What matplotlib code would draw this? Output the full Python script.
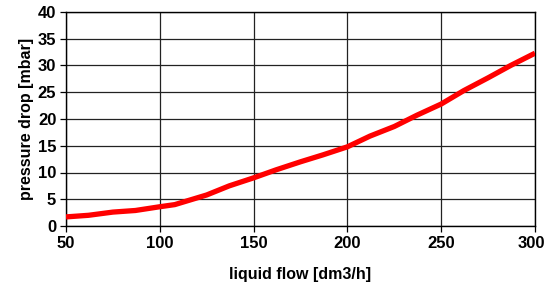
import matplotlib
matplotlib.use("Agg")
import matplotlib.pyplot as plt
import matplotlib.transforms as mtransforms

plt.rcParams['font.family'] = ['Liberation Sans', 'DejaVu Sans']
plt.rcParams['font.weight'] = 'bold'

# liquid flow [dm3/h] and pressure drop [mbar]
flow = [50, 62, 75, 87, 100, 108, 125, 137, 150, 162, 175, 187, 200,
        212, 225, 237, 250, 262, 275, 287, 300]
dp = [1.7, 2.0, 2.6, 2.9, 3.6, 4.0, 5.8, 7.5, 9.0, 10.5, 12.0, 13.3, 14.8,
      16.8, 18.6, 20.7, 22.8, 25.3, 27.7, 30.0, 32.3]

x_ticks = [50, 100, 150, 200, 250, 300]
y_ticks = [0, 5, 10, 15, 20, 25, 30, 35, 40]

fig = plt.figure(figsize=(5.47, 2.89), dpi=100)
ax = fig.add_axes([66/547, 1 - 226/289, (535-66)/547, (226-12)/289])

ax.plot(flow, dp, color='#ff0000', linewidth=3.8, solid_capstyle='butt', zorder=3)

ax.set_xlim(50, 300)
ax.set_ylim(0, 40)
ax.set_xticks(x_ticks)
ax.set_yticks(y_ticks)
ax.grid(True, color='#222222', linewidth=0.9)
ax.set_axisbelow(True)
for s in ax.spines.values():
    s.set_color('black')
    s.set_linewidth(1.0)
ax.tick_params(direction='out', length=4, width=0.9, labelsize=12, pad=3)
for lab in ax.get_xticklabels() + ax.get_yticklabels():
    lab.set_fontweight('bold')

# keep the last x label inside the figure
last = ax.get_xticklabels()[-1]
last.set_transform(last.get_transform() +
                   mtransforms.ScaledTranslation(-4/100, 0, fig.dpi_scale_trans))

ax.set_xlabel('liquid flow [dm3/h]', fontsize=11.5, fontweight='bold', labelpad=12)
ax.set_ylabel('pressure drop [mbar]', fontsize=11.5, fontweight='bold', labelpad=3)

fig.savefig('out.png', dpi=100)
